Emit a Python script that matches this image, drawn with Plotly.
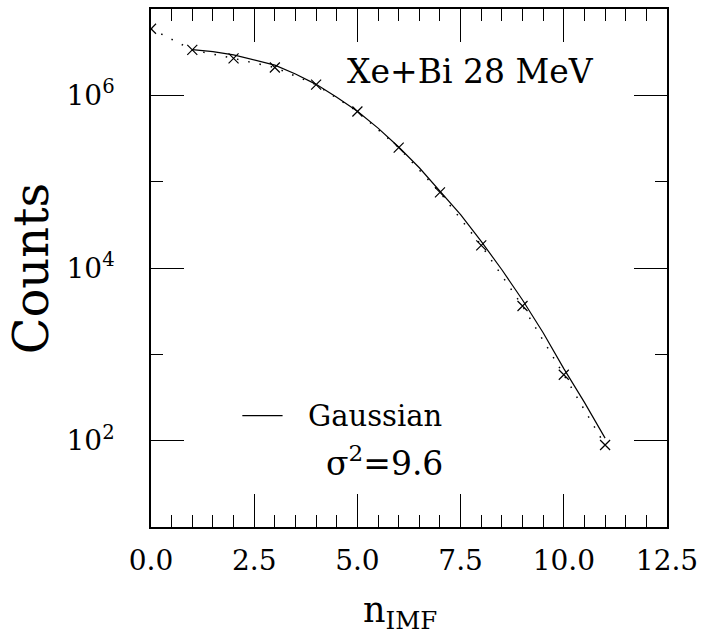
import plotly.graph_objects as go

# data
n_imf = [0, 1, 2, 3, 4, 5, 6, 7, 8, 9, 10, 11]
counts = [5.9e6, 3.36e6, 2.68e6, 2.10e6, 1.33e6, 6.5e5, 2.48e5, 7.5e4, 1.83e4, 3.63e3, 580, 89]

gauss_x = [1, 1.5, 2, 2.5, 3, 3.5, 4, 4.5, 5, 5.5, 6, 6.5, 7, 7.5, 8, 8.5, 9, 9.5, 10, 10.5, 11]
gauss_y = [3.38e6, 3.21e6, 2.94e6, 2.59e6, 2.24e6, 1.77e6, 1.34e6, 9.49e5, 6.55e5, 4.17e5,
           2.52e5, 1.45e5, 7.85e4, 4.16e4, 2.03e4, 9.55e3, 4.26e3, 1.78e3, 684, 278, 107]

x_ticks = [0, 2.5, 5, 7.5, 10, 12.5]
x_labels = ["0.0", "2.5", "5.0", "7.5", "10.0", "12.5"]
y_ticks = [1e2, 1e4, 1e6]
y_labels = ["10<sup>2</sup>", "10<sup>4</sup>", "10<sup>6</sup>"]
y_minor = [1e1, 1e3, 1e5, 1e7]

FONT = "DejaVu Serif"
INK = "black"

fig = go.Figure()
fig.add_trace(go.Scatter(x=n_imf, y=counts, mode="lines",
                         line=dict(color=INK, width=1.5, dash="1.5px,10px"),
                         showlegend=False, hoverinfo="skip"))
fig.add_trace(go.Scatter(x=gauss_x, y=gauss_y, mode="lines",
                         line=dict(color=INK, width=1.2),
                         showlegend=False))
fig.add_trace(go.Scatter(x=n_imf, y=counts, mode="markers",
                         marker=dict(symbol="x-thin-open", size=10, color=INK,
                                     line=dict(color=INK, width=1.2)),
                         showlegend=False))

fig.update_xaxes(range=[0, 12.5], tickmode="array", tickvals=x_ticks, ticktext=x_labels,
                 ticks="inside", ticklen=33, tickwidth=1.2, tickcolor=INK,
                 minor=dict(dtick=0.5, tick0=0, ticks="inside", ticklen=12, tickwidth=1.2, tickcolor=INK),
                 showline=True, linecolor=INK, linewidth=1.5, mirror="ticks",
                 showgrid=False, zeroline=False,
                 tickfont=dict(family=FONT, size=28, color=INK), ticklabelstandoff=8)
fig.update_yaxes(type="log", range=[1, 7], tickmode="array", tickvals=y_ticks, ticktext=y_labels,
                 ticks="inside", ticklen=33, tickwidth=1.2, tickcolor=INK,
                 minor=dict(tickmode="array", tickvals=y_minor, ticks="inside", ticklen=12,
                            tickwidth=1.2, tickcolor=INK),
                 showline=True, linecolor=INK, linewidth=1.5, mirror="ticks",
                 showgrid=False, zeroline=False,
                 tickfont=dict(family=FONT, size=28, color=INK), ticklabelstandoff=29)

fig.add_annotation(text="Xe+Bi 28 MeV", xref="paper", yref="paper", x=0.62, y=0.879,
                   xanchor="center", yanchor="middle",
                   showarrow=False, font=dict(family=FONT, size=33, color=INK))
fig.add_annotation(text="Gaussian", xref="paper", yref="paper", x=0.300, y=0.215,
                   xanchor="left", yanchor="middle",
                   showarrow=False, font=dict(family=FONT, size=29, color=INK))
fig.add_annotation(text="σ<sup>2</sup>=9.6", xref="paper", yref="paper", x=0.336, y=0.126,
                   xanchor="left", yanchor="middle",
                   showarrow=False, font=dict(family=FONT, size=33, color=INK))
fig.add_shape(type="line", xref="paper", yref="paper", x0=0.177, x1=0.255, y0=0.215, y1=0.215,
              line=dict(color=INK, width=1.2))
fig.add_annotation(text="Counts", xref="paper", yref="paper", x=-0.232, y=0.498, textangle=-90,
                   xanchor="center", yanchor="middle",
                   showarrow=False, font=dict(family=FONT, size=48, color=INK))
fig.add_annotation(text="n<sub>IMF</sub>", xref="paper", yref="paper", x=0.482, y=-0.165,
                   xanchor="center", yanchor="middle",
                   showarrow=False, font=dict(family=FONT, size=35, color=INK))

fig.update_layout(width=705, height=634, margin=dict(l=151, r=33, t=7, b=107),
                  plot_bgcolor="white", paper_bgcolor="white", showlegend=False)
fig.write_html("out.html", config={"displayModeBar": False},
               post_script="document.body.style.margin='0px';")
